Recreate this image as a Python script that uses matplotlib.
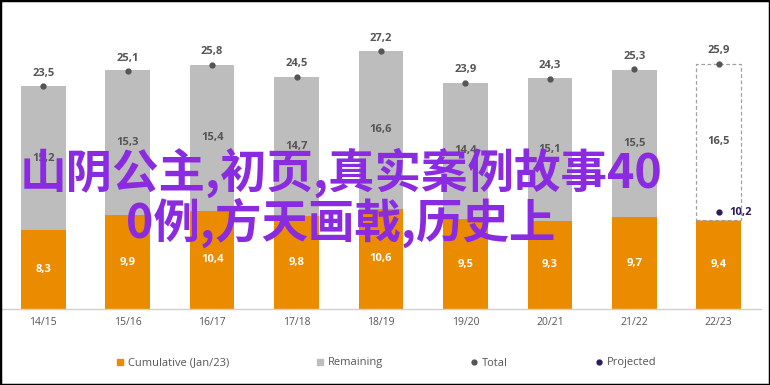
import matplotlib
matplotlib.use("Agg")
import matplotlib.pyplot as plt
from matplotlib.lines import Line2D
from matplotlib.patches import Rectangle

plt.rcParams['font.family'] = ['Open Sans', 'DejaVu Sans']

seasons = ["14/15", "15/16", "16/17", "17/18", "18/19", "19/20", "20/21", "21/22", "22/23"]
cumulative = [8.3, 9.9, 10.4, 9.8, 10.6, 9.5, 9.3, 9.7, 9.4]
remaining = [15.2, 15.3, 15.4, 14.7, 16.6, 14.4, 15.1, 15.5, 16.5]
total = [23.5, 25.1, 25.8, 24.5, 27.2, 23.9, 24.3, 25.3, 25.9]
projected_idx = 8
projected_val = 10.2
overlay_text = "山阴公主,初页,真实案例故事40\n0例,方天画戟,历史上"

ORANGE = "#EB8C00"
GRAY = "#BDBDBD"
DARK = "#555555"
NAVY = "#2D1A5C"
PURPLE = "#8A2BE2"

fig = plt.figure(figsize=(7.7, 3.85), dpi=100)
ax = fig.add_axes([0.0013, 1 - 309 / 385, 0.987, 0.738])

x = list(range(len(seasons)))
w = 0.53
n = len(seasons)
fmt = lambda v: f"{v:.1f}".replace(".", ",")
LBL = 8

for i in x:
    ax.bar(i, cumulative[i], width=w, color=ORANGE, zorder=2)
    if i == projected_idx:
        ax.bar(i, remaining[i], bottom=cumulative[i], width=w, facecolor="white",
               edgecolor="#A0A0A0", linestyle=(0, (3, 2)), linewidth=0.9, zorder=2)
    else:
        ax.bar(i, remaining[i], bottom=cumulative[i], width=w, color=GRAY, zorder=2)
    ax.text(i, cumulative[i] / 2, fmt(cumulative[i]), ha="center", va="center",
            color="white", fontsize=LBL, fontweight="bold", zorder=4)
    ax.text(i, cumulative[i] + remaining[i] / 2, fmt(remaining[i]), ha="center", va="center",
            color=DARK, fontsize=LBL, fontweight="bold", zorder=4)
    ax.plot(i, total[i], "o", color=DARK, markersize=3.5, zorder=5)
    ax.text(i, total[i] + 0.8, fmt(total[i]), ha="center", va="bottom",
            color=DARK, fontsize=LBL, fontweight="bold", zorder=5)

ax.plot(projected_idx, projected_val, "o", color=NAVY, markersize=3.5, zorder=5)
ax.text(projected_idx + 0.12, projected_val, fmt(projected_val), ha="left", va="center",
        color=NAVY, fontsize=LBL, fontweight="bold", zorder=5)

ax.set_xlim(-0.5, n - 0.5)
ax.set_ylim(0, 30)
ax.set_xticks(x)
ax.set_xticklabels(seasons, color=DARK, fontsize=7.5)
ax.tick_params(axis="x", length=0, pad=6)
ax.set_yticks([])
for s in ["top", "right", "left"]:
    ax.spines[s].set_visible(False)
ax.spines["bottom"].set_color("#D0D0D0")
ax.spines["bottom"].set_linewidth(1.0)

handles = [
    Line2D([], [], marker="s", linestyle="", color=ORANGE, markersize=5),
    Line2D([], [], marker="s", linestyle="", color=GRAY, markersize=5),
    Line2D([], [], marker="o", linestyle="", color=DARK, markersize=3.5),
    Line2D([], [], marker="o", linestyle="", color=NAVY, markersize=3.5),
]
labels = ["Cumulative (Jan/23)", "Remaining", "Total", "Projected"]
leg = fig.legend(handles, labels, loc="center", bbox_to_anchor=(386 / 770, 1 - 363 / 385),
                 ncol=4, frameon=False, fontsize=8, columnspacing=7.8,
                 handlelength=0.8, handletextpad=0.3)
for t in leg.get_texts():
    t.set_color(DARK)

fig.text(341 / 770, 1 - 198 / 385, overlay_text, ha="center", va="center",
         color=PURPLE, fontsize=33.5, fontweight="bold", linespacing=1.0,
         family=["Noto Sans CJK SC", "DejaVu Sans"], zorder=10)

fig.add_artist(Rectangle((0, 0), 1, 1, transform=fig.transFigure, fill=False,
                         edgecolor="black", linewidth=2.5))

fig.savefig("out.png", dpi=100)
